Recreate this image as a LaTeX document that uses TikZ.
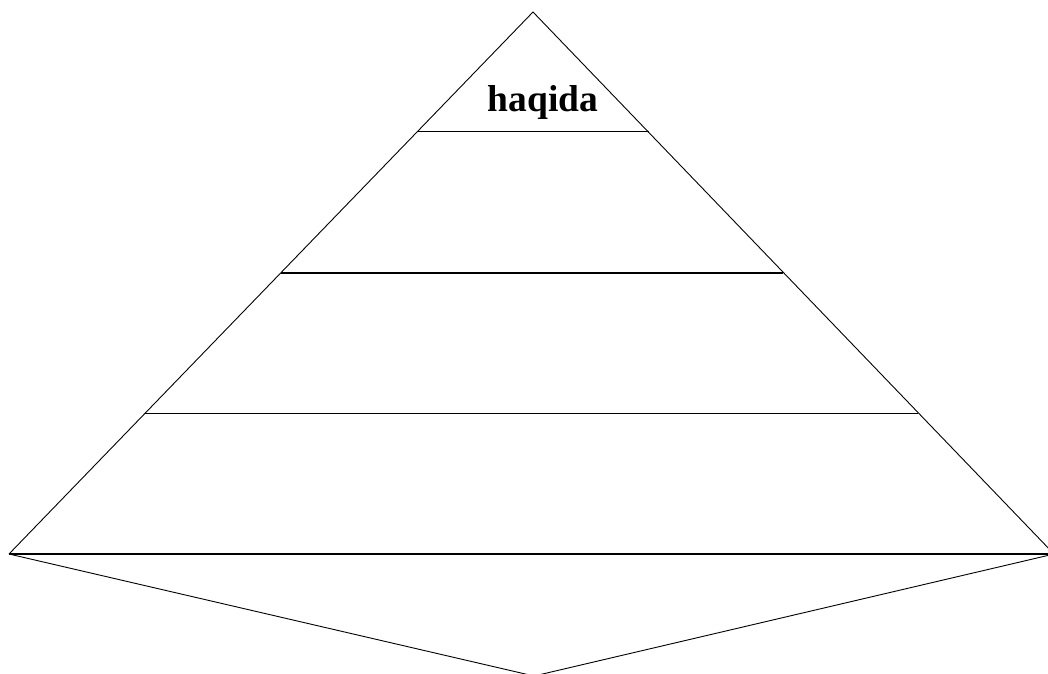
\documentclass[tikz,border=0pt]{standalone}
\usepackage{fontspec}
\setmainfont{Liberation Serif}
\begin{document}
\begin{tikzpicture}[x=1pt,y=-1pt,
  edge/.style={draw=black,line width=0.9pt},
  band/.style={draw=black,line width=1.3pt},
  lbl/.style={font=\fontsize{37.5}{42}\selectfont\bfseries,anchor=base,inner sep=0pt}]
\useasboundingbox[fill=white] (0,0) rectangle (1048,673);
\begin{scope}
\clip (0,0) rectangle (1048,673);
\coordinate (apex) at (533,12);
\coordinate (bl) at (9,554);
\coordinate (br) at (1054,554);
\coordinate (tip) at (534,676);
\draw[edge] (bl) -- (apex) -- (br);
\draw[edge] (bl) -- (tip) -- (br);
\draw[band] (417,131.5) -- (649,131.5);
\draw[band] (281,273) -- (783,273);
\draw[band] (145,413.5) -- (918,413.5);
\draw[band] (bl) -- (br);
\end{scope}
\node[lbl] (t) at (543,111) {haqida};
\end{tikzpicture}
\end{document}
